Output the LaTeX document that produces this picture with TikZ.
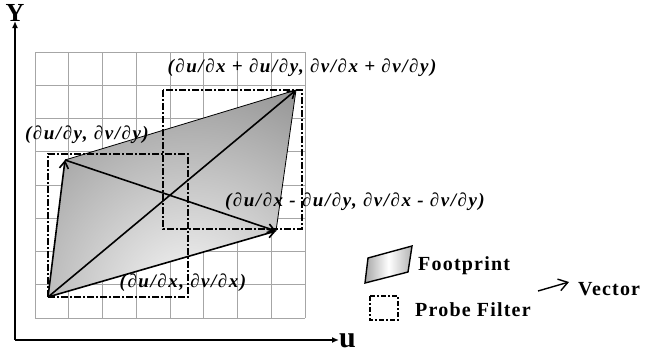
\documentclass[tikz,border=0pt]{standalone}
\usepackage{fontspec}
\setmainfont{Liberation Serif}
\usetikzlibrary{arrows.meta}
\tikzset{
  vec/.style={line width=1.6pt, -{Straight Barb[length=7pt,width=9pt]}},
  probe/.style={line width=1.6pt, dash pattern=on 7pt off 2pt on 2pt off 2pt},
  coordlabel/.style={font=\fontsize{19}{19}\selectfont\bfseries\itshape\addfontfeature{LetterSpace=8}, inner sep=0pt},
  legendtext/.style={font=\fontsize{20}{20}\selectfont\bfseries\addfontfeature{LetterSpace=6}, inner sep=0pt, anchor=base west},
}
\begin{document}
\begin{tikzpicture}[x=1pt, y=-1pt]
				\useasboundingbox (0,0) rectangle (647,354);
				% Draw grid
				\foreach \i in {0,...,8} {
					\draw[gray!70, line width=0.8pt] (35+33.75*\i,52) -- (35+33.75*\i,318);
					\draw[gray!70, line width=0.8pt] (35,52+33.25*\i) -- (305,52+33.25*\i);
				}
				
				% Corner points
				\coordinate (O) at (48,297);
				\coordinate (A) at (65,160);
				\coordinate (B) at (276,231);
				\coordinate (C) at (296,90);
				
				% Footprint
				\begin{scope}
					\clip (O) -- (B) -- (C) -- (A) -- cycle;
					\shade[inner color=gray!5, outer color=gray!95] (190,300) circle (270);
				\end{scope}
				\draw[line width=0.8pt] (A) -- (C) -- (B);
				
				% Probe filters
				\draw[probe] (O) rectangle (188,154);
				\draw[probe] (163,90) rectangle (302,229);
				
				% Vectors
				\draw[vec] (O) -- (A);
				\draw[vec] (O) -- (B);
				\draw[vec] (O) -- (C);
				\draw[vec] (A) -- (B);
				
				% Axes
				\coordinate (axo) at (15,340);
				\coordinate (ytip) at (15,21);
				\coordinate (utip) at (339,340);
				\draw[line width=1.6pt, -{Latex[length=7pt,width=6pt]}] (axo) -- (ytip);
				\draw[line width=1.6pt, -{Latex[length=7pt,width=6pt]}] (axo) -- (utip);
				\node[font=\fontsize{26}{26}\selectfont\bfseries, anchor=base, inner sep=0pt] (ylab) at (15,21) {Y};
				\node[font=\fontsize{30}{30}\selectfont\bfseries, anchor=base west, inner sep=0pt] (ulab) at (339,347) {u};
				
				% Labels
				\node[coordlabel] (lC) at (302,68) {(∂u/∂x + ∂u/∂y, ∂v/∂x + ∂v/∂y)};
				\node[coordlabel] (lA) at (87,135) {(∂u/∂y, ∂v/∂y)};
				\node[coordlabel] (lD) at (355,202) {(∂u/∂x - ∂u/∂y, ∂v/∂x - ∂v/∂y)};
				\node[coordlabel] (lB) at (183,283) {(∂u/∂x, ∂v/∂x)};
				
				% Legend
				\shade[left color=gray!70, right color=gray!60, middle color=white, draw=black, line width=1.4pt]
					(365,283) -- (368,258) -- (412,246) -- (408,272) -- cycle;
				\node[legendtext] (fp) at (418,270) {Footprint};
				\draw[probe, line width=1.4pt, dash pattern=on 5pt off 2pt on 2pt off 2pt] (370,296) rectangle (398,320);
				\node[legendtext] (pf) at (415,316) {Probe Filter};
				\coordinate (vs) at (538,291);
				\coordinate (ve) at (569,282);
				\draw[line width=1.4pt, -{Straight Barb[length=9pt,width=12pt]}] (vs) -- (ve);
				\node[legendtext] (vl) at (578,295) {Vector};
			\end{tikzpicture}
\end{document}
